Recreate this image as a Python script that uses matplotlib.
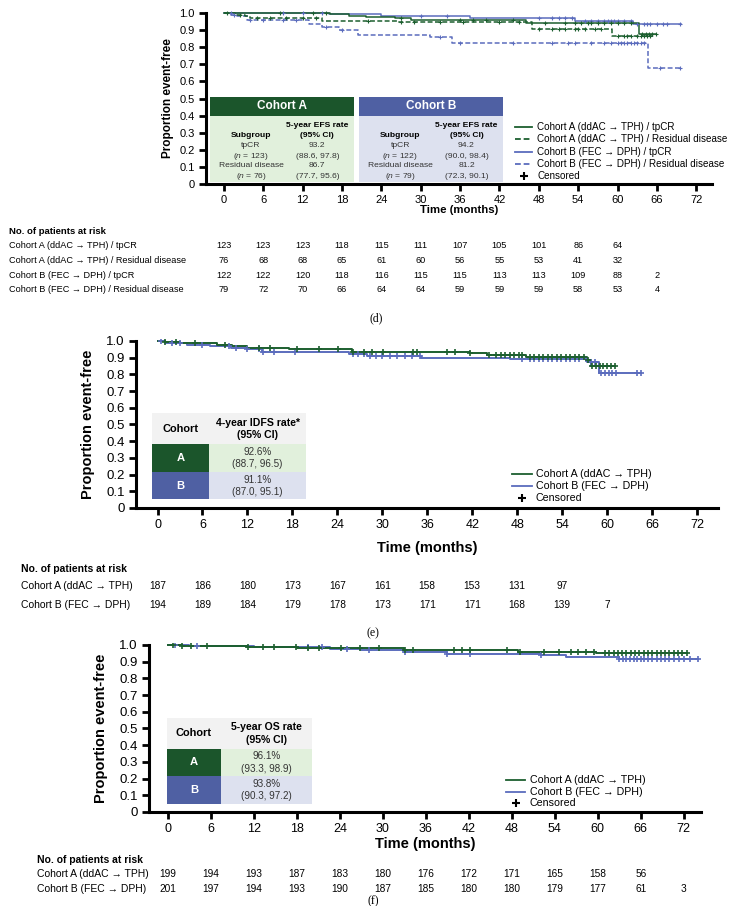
import numpy as np
import matplotlib
matplotlib.use('Agg')
import matplotlib.pyplot as plt
from matplotlib.lines import Line2D
from matplotlib.patches import Rectangle
import matplotlib.transforms as mtransforms

W, H = 740, 906
plt.rcParams['font.family'] = ['Liberation Sans', 'DejaVu Sans']
plt.rcParams['mathtext.fontset'] = 'custom'
plt.rcParams['mathtext.rm'] = 'Liberation Sans'
plt.rcParams['mathtext.it'] = 'Liberation Sans:italic'
NARROW = ['Liberation Sans Narrow', 'Liberation Sans', 'DejaVu Sans']

GREEN = '#1c5f2f'
BLUE = '#5b6cbd'
DKGREEN = '#1b552b'
LTGREEN = '#e1f0dc'
DKBLUE = '#4f60a3'
LTBLUE = '#dde1ef'
GRAYHDR = '#f2f2f2'

# ---------------- data ----------------
x_ticks = list(range(0, 73, 6))
y_ticks = [0, 0.1, 0.2, 0.3, 0.4, 0.5, 0.6, 0.7, 0.8, 0.9, 1.0]
y_tick_labels = ['0', '0.1', '0.2', '0.3', '0.4', '0.5', '0.6', '0.7', '0.8', '0.9', '1.0']

# Panel (d) EFS by subgroup
d_labels = ['Cohort A (ddAC \u2192 TPH) / tpCR',
            'Cohort A (ddAC \u2192 TPH) / Residual disease',
            'Cohort B (FEC \u2192 DPH) / tpCR',
            'Cohort B (FEC \u2192 DPH) / Residual disease']
dA_tp_t = [0, 16.2, 19.1, 21.7, 26.0, 28.5, 46.0, 63.2]
dA_tp_s = [1.0, 0.992, 0.984, 0.976, 0.968, 0.958, 0.942, 0.880]
dA_tp_end = 65.8
dA_tp_c = [0.5, 8.5, 13.5, 15.5, 27, 36, 38, 40, 44, 49, 52, 53.5, 54.5, 55.5, 56,
           57, 58, 59, 60, 61, 62, 63.8, 64.3, 64.8, 65.3, 65.8]
dA_rd_t = [0, 1.7, 3.2, 4.0, 15.0, 26.3, 47.0, 59.1]
dA_rd_s = [1.0, 0.99, 0.98, 0.968, 0.955, 0.945, 0.905, 0.868]
dA_rd_end = 65.5
dA_rd_c = [2.5, 5, 7, 9.5, 12, 14, 22, 27, 29, 33, 36.5, 42, 45, 48, 50, 51, 52,
           53.5, 54, 55, 56.5, 57.5, 60, 61, 61.5, 62, 63, 63.5, 64, 64.5, 65]
dB_tp_t = [0, 16.0, 24.0, 37.5, 53.5, 62.4]
dB_tp_s = [1.0, 0.992, 0.98, 0.968, 0.952, 0.935]
dB_tp_end = 69.6
dB_tp_c = [1, 9, 12, 15, 30, 34, 48, 50, 51, 52, 53, 55, 56, 57, 58, 58.5, 59, 59.5,
           60, 61, 62, 63, 64, 64.5, 65, 66, 67, 67.5, 69.5]
dB_rd_t = [0, 1.0, 2.0, 3.5, 13.0, 15.0, 17.6, 20.5, 31.4, 34.8, 64.6]
dB_rd_s = [1.0, 0.99, 0.98, 0.962, 0.935, 0.92, 0.90, 0.874, 0.86, 0.822, 0.68]
dB_rd_end = 69.8
dB_rd_c = [1.5, 4, 6, 9, 11, 15.5, 18, 33, 36, 44, 50, 52.5, 53.5, 56, 58, 59, 60,
           60.5, 61, 61.5, 62, 62.5, 63, 63.5, 64, 66.5, 69.5]
d_risk = [[123, 123, 123, 118, 115, 111, 107, 105, 101, 86, 64],
          [76, 68, 68, 65, 61, 60, 56, 55, 53, 41, 32],
          [122, 122, 120, 118, 116, 115, 115, 113, 113, 109, 88, 2],
          [79, 72, 70, 66, 64, 64, 59, 59, 59, 58, 53, 4]]
d_tbl_subgroups = ['tpCR', 'Residual disease']
d_tbl_nA = ['123', '76']
d_tbl_nB = ['122', '79']
d_tbl_rateA = ['93.2', '86.7']
d_tbl_ciA = ['(88.6, 97.8)', '(77.7, 95.6)']
d_tbl_rateB = ['94.2', '81.2']
d_tbl_ciB = ['(90.0, 98.4)', '(72.3, 90.1)']

# Panel (e) IDFS
ef_labels = ['Cohort A (ddAC \u2192 TPH)', 'Cohort B (FEC \u2192 DPH)']
eA_t = [0, 1, 3, 6, 8, 10, 12, 17.5, 26, 41.7, 44, 49.2, 57.3, 57.8]
eA_s = [1.0, 0.995, 0.99, 0.985, 0.975, 0.968, 0.96, 0.95, 0.935, 0.925, 0.915, 0.905, 0.885, 0.852]
eA_end = 61.0
eA_c = [1, 2.5, 5, 9, 13.5, 15, 18.6, 21.6, 24.1, 26.1, 27.6, 28.6, 30.1, 34.1, 34.6,
        38.6, 39.7, 41.7, 44.2, 45.2, 45.8, 46.4, 47.0, 47.6, 48.2, 48.7, 49.7, 50.3,
        50.9, 51.5, 52.1, 52.7, 53.3, 53.9, 54.5, 55.1, 55.7, 56.3, 56.9, 57.5, 58.0,
        58.5, 59.0, 59.5, 60.0, 60.5, 61.0]
eB_t = [0, 1, 2, 4, 7, 9.8, 12, 14, 25.6, 28, 35.1, 47, 57.3, 58.9]
eB_s = [1.0, 0.99, 0.985, 0.978, 0.97, 0.96, 0.95, 0.935, 0.922, 0.91, 0.90, 0.89, 0.876, 0.81]
eB_end = 64.5
eB_c = [0.5, 2, 3, 6, 9.5, 10.5, 12.0, 13.6, 14.1, 15.6, 18.3, 26.1, 26.8, 27.5, 28.3,
        29.1, 30, 31, 32, 33, 34, 35, 48.7, 49.7, 50.3, 50.9, 51.5, 52.1, 52.7, 53.3,
        53.9, 54.5, 55.1, 55.7, 56.3, 57.2, 57.8, 58.4, 59.2, 59.7, 60.2, 60.7, 61.2,
        64.0, 64.5]
e_risk = [[187, 186, 180, 173, 167, 161, 158, 153, 131, 97],
          [194, 189, 184, 179, 178, 173, 171, 171, 168, 139, 7]]
e_tbl_header = ['Cohort', '4-year IDFS rate*\n(95% CI)']
e_tbl_vals = ['92.6%\n(88.7, 96.5)', '91.1%\n(87.0, 95.1)']

# Panel (f) OS
fA_t = [0, 2, 11, 18, 33, 48.8, 59.8]
fA_s = [1.0, 0.995, 0.99, 0.98, 0.968, 0.96, 0.953]
fA_end = 72.5
fA_c = [0.7, 2.0, 3.2, 5.4, 11.1, 13.2, 14.8, 17.9, 19.5, 21.1, 24.2, 26.8, 29.5, 33.1,
        34.2, 39.9, 41.0, 42.1, 47.3, 49.1, 52.5, 54.6, 56.2, 57.3, 58.3, 59.4, 61.0,
        61.6, 62.2, 62.8, 63.4, 64.0, 64.6, 65.2, 65.8, 66.4, 67.0, 67.6, 68.2, 68.8,
        69.4, 70.0, 70.6, 71.2, 71.8, 72.5]
fB_t = [0, 3, 12, 18.6, 22.6, 27, 33, 38.9, 52, 55.6, 59.8, 63]
fB_s = [1.0, 0.995, 0.99, 0.985, 0.975, 0.968, 0.96, 0.945, 0.938, 0.93, 0.925, 0.918]
fB_end = 74.0
fB_c = [1.0, 4.0, 19.5, 21.5, 25.0, 28.0, 33.1, 39.0, 42.1, 52.0, 63.0, 63.5, 64.0,
        64.5, 65.0, 65.5, 66.0, 66.5, 67.0, 67.6, 68.2, 68.8, 69.4, 70.0, 70.6, 71.3,
        72.0, 72.8, 74.0]
f_risk = [[199, 194, 193, 187, 183, 180, 176, 172, 171, 165, 158, 56],
          [201, 197, 194, 193, 190, 187, 185, 180, 180, 179, 177, 61, 3]]
f_tbl_header = ['Cohort', '5-year OS rate\n(95% CI)']
f_tbl_vals = ['96.1%\n(93.3, 98.9)', '93.8%\n(90.3, 97.2)']

# ---------------- helpers ----------------
fig = plt.figure(figsize=(W / 100, H / 100), dpi=100)


def P(x, y):
    return x / W, 1 - y / H


def make_ax(l, r, t, b, xlim, tick_fs_x, tick_fs_y):
    ax = fig.add_axes([l / W, 1 - b / H, (r - l) / W, (b - t) / H])
    ax.set_xlim(*xlim)
    ax.set_ylim(0, 1.01)
    for s in ['top', 'right']:
        ax.spines[s].set_visible(False)
    for s in ['left', 'bottom']:
        ax.spines[s].set_linewidth(2.2)
    ax.set_xticks(x_ticks)
    ax.set_xticklabels([str(v) for v in x_ticks], fontsize=tick_fs_x)
    ax.set_yticks(y_ticks)
    ax.set_yticklabels(y_tick_labels, fontsize=tick_fs_y)
    ax.tick_params(axis='both', direction='out', length=5, width=2, pad=3)
    ax.spines['left'].set_bounds(0, 1.0)
    return ax


def km(ax, t, s, end, cens, color, ls, lw=1.1, ms=4.5, mew=1.0):
    tt = list(t) + [end]
    ss = list(s) + [s[-1]]
    ax.step(tt, ss, where='post', color=color, lw=lw, ls=ls, zorder=3)
    ta = np.asarray(t)
    sa = np.asarray(s)
    c = np.asarray(cens)
    cy = sa[np.searchsorted(ta, c, side='right') - 1]
    ax.plot(c, cy, ls='none', marker='+', color=color, ms=ms, mew=mew, zorder=4)


def legend(ax, x0, x1, xt, ys, labels, colors, styles, fs):
    tr = mtransforms.blended_transform_factory(fig.transFigure, ax.transData)
    for y, lab, col, st in zip(ys, labels, colors, styles):
        if st == 'cens':
            fig.add_artist(Line2D([(x0 + x1) / 2 / W], [y], transform=tr, ls='none',
                                  marker='+', color='black', ms=5.5, mew=1.5))
        else:
            fig.add_artist(Line2D([x0 / W, x1 / W], [y, y], transform=tr, color=col,
                                  ls=st, lw=1.3))
        fig.text(xt / W, y, lab, transform=tr, fontsize=fs, va='center', ha='left')


def risk_table(ax, header_xy, label_x, ys, labels, rows, fs_h, fs, label_fs):
    fig.text(*P(*header_xy), 'No. of patients at risk', fontsize=fs_h, fontweight='bold',
             va='center', ha='left', family=NARROW)
    tr = mtransforms.blended_transform_factory(ax.transData, fig.transFigure)
    for y, lab, row in zip(ys, labels, rows):
        fig.text(*P(label_x, y), lab, fontsize=label_fs, va='center', ha='left', family=NARROW)
        for i, v in enumerate(row):
            fig.text(x_ticks[i], 1 - y / H, str(v), transform=tr, fontsize=fs, va='center',
                     ha='center', family=NARROW)


def rect(ax, x0, y0, x1, y1, color):
    ax.add_patch(Rectangle((x0, y0), x1 - x0, y1 - y0, facecolor=color, edgecolor='none',
                           transform=ax.transData, zorder=2))


# ================= Panel (d) =================
axd = make_ax(206, 712, 11.3, 184, (-2.75, 74.4), 8, 8)
dash = (0, (3.2, 1.6))
km(axd, dB_rd_t, dB_rd_s, dB_rd_end, dB_rd_c, BLUE, dash, ms=3.5, mew=0.8)
km(axd, dB_tp_t, dB_tp_s, dB_tp_end, dB_tp_c, BLUE, '-', ms=3.5, mew=0.8)
km(axd, dA_rd_t, dA_rd_s, dA_rd_end, dA_rd_c, GREEN, dash, ms=3.5, mew=0.8)
km(axd, dA_tp_t, dA_tp_s, dA_tp_end, dA_tp_c, GREEN, '-', ms=3.5, mew=0.8)

fig.text(*P(168, 98), 'Proportion event-free', rotation=90, fontsize=8.5, fontweight='bold',
         ha='center', va='center')
fig.text(*P(459, 210), 'Time (months)', fontsize=8.2, fontweight='bold', ha='center', va='center')

# summary table (d)
TFS = 6.1
for (x0, x1, hdr, dk, lt, rates, cis, ns) in [
        (-2.14, 19.83, 'Cohort A', DKGREEN, LTGREEN, d_tbl_rateA, d_tbl_ciA, d_tbl_nA),
        (20.6, 42.56, 'Cohort B', DKBLUE, LTBLUE, d_tbl_rateB, d_tbl_ciB, d_tbl_nB)]:
    rect(axd, x0, 0.398, x1, 0.509, dk)
    rect(axd, x0, 0.012, x1, 0.398, lt)
    xc = (x0 + x1) / 2
    axd.text(xc, 0.4535, hdr, color='white', fontsize=8.5, fontweight='bold', ha='center',
             va='center', zorder=5)
    c1 = x0 + (x1 - x0) * 0.285
    c2 = x0 + (x1 - x0) * 0.745
    axd.text(c1, 0.281, 'Subgroup', fontsize=TFS, fontweight='bold', ha='center', va='center', zorder=5)
    axd.text(c2, 0.343, '5-year EFS rate', fontsize=TFS, fontweight='bold', ha='center', va='center', zorder=5)
    axd.text(c2, 0.283, '(95% CI)', fontsize=TFS, fontweight='bold', ha='center', va='center', zorder=5)
    for k, (yy1, yy2) in enumerate([(0.224, 0.162), (0.106, 0.043)]):
        axd.text(c1, yy1, d_tbl_subgroups[k], fontsize=TFS, ha='center', va='center', color='#333333', zorder=5)
        axd.text(c1, yy2, '($\\mathit{n}$ = ' + ns[k] + ')', fontsize=TFS, ha='center',
                 va='center', color='#333333', zorder=5)
        axd.text(c2, yy1, rates[k], fontsize=TFS, ha='center', va='center', color='#333333', zorder=5)
        axd.text(c2, yy2, cis[k], fontsize=TFS, ha='center', va='center', color='#333333', zorder=5)

legend(axd, 515, 532, 537, [0.333, 0.262, 0.19, 0.118, 0.049], d_labels + ['Censored'],
       [GREEN, GREEN, BLUE, BLUE, 'k'], ['-', dash, '-', dash, 'cens'], 7.1)

risk_table(axd, (9, 232), 9, [246, 260.5, 275, 289.5], d_labels, d_risk, 6.8, 6.6, 6.6)
fig.text(*P(376, 318), '(d)', fontsize=8.5, family=['Liberation Serif', 'DejaVu Serif'],
         ha='center', va='center')


# ================= Panel (e)/(f) helper =================
def cohort_table(ax, x0, x1, x2, y0, y1, y2, y3, header, vals, fs):
    rect(ax, x0, y2, x2, y3, GRAYHDR)
    rect(ax, x0, y1, x1, y2, DKGREEN)
    rect(ax, x1, y1, x2, y2, LTGREEN)
    rect(ax, x0, y0, x1, y1, DKBLUE)
    rect(ax, x1, y0, x2, y1, LTBLUE)
    c1 = (x0 + x1) / 2
    c2 = (x1 + x2) / 2
    ax.text(c1, (y2 + y3) / 2, header[0], fontsize=fs + 0.3, fontweight='bold', ha='center',
            va='center', zorder=5)
    ax.text(c2, (y2 + y3) / 2, header[1], fontsize=fs, fontweight='bold', ha='center',
            va='center', linespacing=1.3, zorder=5)
    ax.text(c1, (y1 + y2) / 2, 'A', color='white', fontsize=fs + 0.5, fontweight='bold',
            ha='center', va='center', zorder=5)
    ax.text(c1, (y0 + y1) / 2, 'B', color='white', fontsize=fs + 0.5, fontweight='bold',
            ha='center', va='center', zorder=5)
    ax.text(c2, (y1 + y2) / 2, vals[0], fontsize=fs - 0.5, ha='center', va='center',
            color='#333333', linespacing=1.3, zorder=5)
    ax.text(c2, (y0 + y1) / 2, vals[1], fontsize=fs - 0.5, ha='center', va='center',
            color='#333333', linespacing=1.3, zorder=5)


# ================= Panel (e) =================
axe = make_ax(136, 718, 339.3, 508, (-2.87, 74.8), 9, 9.5)
km(axe, eB_t, eB_s, eB_end, eB_c, BLUE, '-', lw=1.4, ms=5, mew=1.2)
km(axe, eA_t, eA_s, eA_end, eA_c, GREEN, '-', lw=1.4, ms=5, mew=1.2)
fig.text(*P(88, 424), 'Proportion event-free', rotation=90, fontsize=10.5, fontweight='bold',
         ha='center', va='center')
fig.text(*P(427, 548), 'Time (months)', fontsize=10.5, fontweight='bold', ha='center', va='center')
cohort_table(axe, -0.73, 6.88, 19.83, 0.051, 0.214, 0.383, 0.566, e_tbl_header, e_tbl_vals, 7.6)
legend(axe, 512, 532, 536, [0.205, 0.132, 0.062], ef_labels + ['Censored'], [GREEN, BLUE, 'k'],
       ['-', '-', 'cens'], 7.7)
risk_table(axe, (21, 569), 21, [586, 605], ef_labels, e_risk, 7.5, 7.3, 7.5)
fig.text(*P(373, 633), '(e)', fontsize=8.5, family=['Liberation Serif', 'DejaVu Serif'],
         ha='center', va='center')

# ================= Panel (f) =================
axf = make_ax(149, 701, 643.3, 812, (-2.65, 74.4), 9, 9.5)
km(axf, fB_t, fB_s, fB_end, fB_c, BLUE, '-', lw=1.4, ms=5, mew=1.2)
km(axf, fA_t, fA_s, fA_end, fA_c, GREEN, '-', lw=1.4, ms=5, mew=1.2)
fig.text(*P(101, 728), 'Proportion event-free', rotation=90, fontsize=10.5, fontweight='bold',
         ha='center', va='center')
fig.text(*P(425, 844), 'Time (months)', fontsize=10.5, fontweight='bold', ha='center', va='center')
cohort_table(axf, -0.14, 7.4, 20.1, 0.048, 0.214, 0.38, 0.561, f_tbl_header, f_tbl_vals, 7.6)
legend(axf, 506, 525, 530, [0.193, 0.121, 0.053], ef_labels + ['Censored'], [GREEN, BLUE, 'k'],
       ['-', '-', 'cens'], 7.7)
risk_table(axf, (37, 860), 37, [874, 889], ef_labels, f_risk, 7.5, 7.3, 7.5)
fig.text(*P(373, 901), '(f)', fontsize=8.5, family=['Liberation Serif', 'DejaVu Serif'],
         ha='center', va='center')

fig.savefig('out.png', dpi=100)
